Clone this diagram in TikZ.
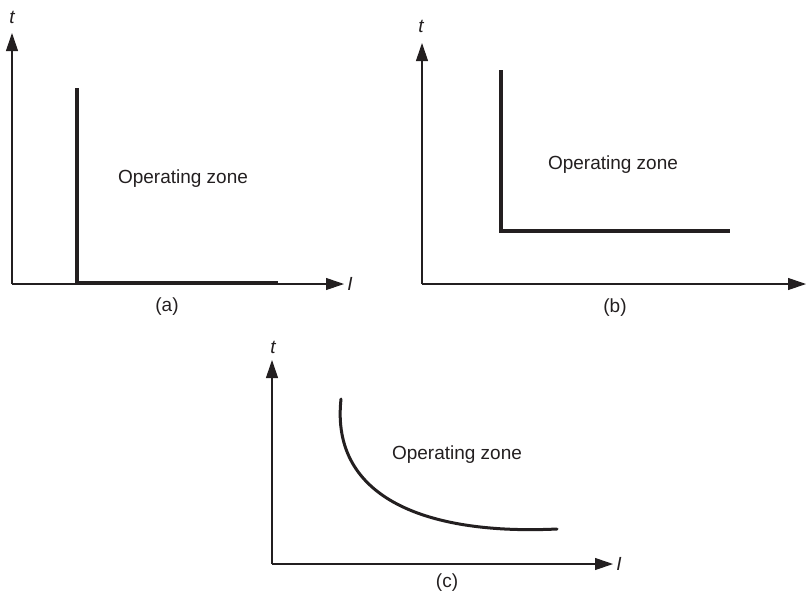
\documentclass[tikz,border=0pt]{standalone}
\usepackage{fontspec}
\setmainfont{Liberation Sans}
\usetikzlibrary{arrows.meta}
\definecolor{ink}{HTML}{231F20}
\begin{document}
\begin{tikzpicture}[x=1pt,y=-1pt,
  axis/.style={line width=1.1pt, draw=ink, -{Triangle[length=18pt,width=12pt]}},
  bound/.style={line width=3.4pt, draw=ink, line join=miter},
  lbl/.style={font=\fontsize{19}{22}\selectfont, text=ink, inner sep=0pt},
  var/.style={font=\fontsize{19}{22}\selectfont\itshape, text=ink, inner sep=0pt}]
\useasboundingbox (0,0) rectangle (810,595);
% ---------- panel (a)
\coordinate (aO) at (12,284);
\coordinate (aY) at (12,33);
\coordinate (aX) at (344,284);
\draw[axis] (aO) -- (aY);
\draw[axis] (aO) -- (aX);
\node[var] (at) at (12,17) {t};
\node[var] (aI) at (350,284) {I};
\coordinate (a1) at (77,88);
\coordinate (a2) at (77,283);
\coordinate (a3) at (278,283);
\draw[bound] (a1) -- (a2) -- (a3);
\node[lbl, anchor=base] (az) at (183,183) {Operating zone};
\node[lbl] (acap) at (167,307) {(a)};
% ---------- panel (b)
\coordinate (bO) at (422,284);
\coordinate (bY) at (422,43);
\coordinate (bX) at (806,284);
\draw[axis] (bO) -- (bY);
\draw[axis] (bO) -- (bX);
\node[var] (bt) at (421,26) {t};
\node[var] (bI) at (812,284) {I};
\coordinate (b1) at (501,70);
\coordinate (b2) at (501,231);
\coordinate (b3) at (730,231);
\draw[bound] (b1) -- (b2) -- (b3);
\node[lbl, anchor=base] (bz) at (613,169) {Operating zone};
\node[lbl] (bcap) at (615,308) {(b)};
% ---------- panel (c)
\coordinate (cO) at (272,564);
\coordinate (cY) at (272,360);
\coordinate (cX) at (613,564);
\draw[axis] (cO) -- (cY);
\draw[axis] (cO) -- (cX);
\node[var] (ct) at (273,347) {t};
\node[var] (cI) at (619,564) {I};
\coordinate (c1) at (341,399);
\coordinate (c2) at (557,529);
\draw[bound, line width=3pt, line cap=round] (c1) .. controls (330,500) and (430,535) .. (c2);
\node[lbl, anchor=base] (cz) at (457,459) {Operating zone};
\node[lbl] (ccap) at (447,583) {(c)};
\end{tikzpicture}
\end{document}
